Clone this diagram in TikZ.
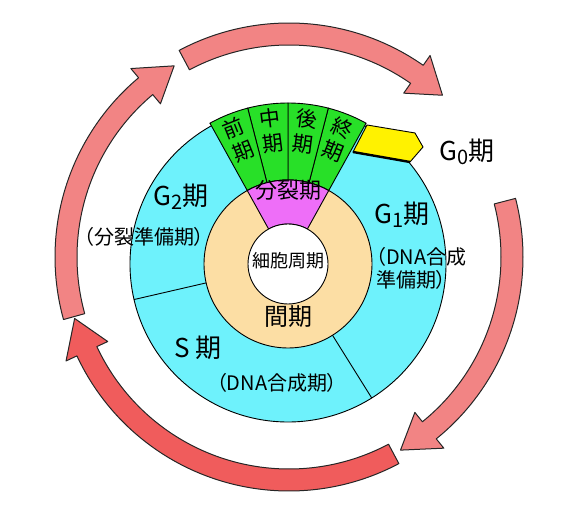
\documentclass[tikz,border=0pt]{standalone}
\usepackage{fontspec}
\setmainfont{Noto Sans CJK JP}
\newfontfamily\jpprop[RawFeature=+palt]{Noto Sans CJK JP}
\usetikzlibrary{calc}
\definecolor{cellcyan}{RGB}{110,242,252}
\definecolor{cellpeach}{RGB}{252,222,164}
\definecolor{cellpink}{RGB}{238,110,248}
\definecolor{mitgreen}{RGB}{40,224,40}
\definecolor{arrowpink}{RGB}{242,132,132}
\definecolor{arrowred}{RGB}{240,92,92}
\newcommand{\gsub}[1]{\raisebox{-4pt}{\fontsize{20}{20}\selectfont #1}}
% piece of a ring round C: from angle, to angle, inner r, outer r
\newcommand{\ringpiece}[4]{($(C)+(#1:#4)$) arc[start angle=#1, end angle=#2, radius=#4] -- ($(C)+(#2:#3)$) arc[start angle=#2, end angle=#1, radius=#3] -- cycle}
% bent arrow round A: tail angle, head base angle, tip angle
\newcommand{\cyclearrow}[3]{($(A)+(#1:234)$) arc[start angle=#1, end angle=#2, radius=234] -- ($(A)+(#2:246)$) -- ($(A)+(#3:223)$) -- ($(A)+(#2:200)$) -- ($(A)+(#2:212)$) arc[start angle=#2, end angle=#1, radius=212] -- cycle}

\begin{document}
\begin{tikzpicture}[x=1pt, y=1pt,
    bigtxt/.style={inner sep=0pt, font=\fontsize{26}{30}\selectfont},
    midtxt/.style={inner sep=0pt, font=\fontsize{22}{26}\selectfont},
    smalltxt/.style={inner sep=0pt, font=\jpprop\fontsize{20}{23}\selectfont},
    coltxt/.style={inner sep=0pt, align=center, font=\fontsize{21}{25}\selectfont},
    ringline/.style={draw=black, line width=0.9pt},
    cyclearr/.style={draw=black!85, line width=1pt, line join=round}]
    \useasboundingbox (0,0) rectangle (563,512);
    \coordinate (C) at (288,248);
    \coordinate (A) at (289,255);

    % arrows round the cycle
    \path[cyclearr, fill=arrowred] \cyclearrow{-62}{-155}{-164};
    \path[cyclearr, fill=arrowpink] \cyclearrow{195.5}{130}{121};
    \path[cyclearr, fill=arrowpink] \cyclearrow{118}{55}{46.5};
    \path[cyclearr, fill=arrowpink] \cyclearrow{14.5}{-51}{-60};

    % interphase ring
    \filldraw[ringline, fill=cellcyan] (C) circle[radius=158];
    \draw[ringline] ($(C)+(193:84)$) -- ($(C)+(193:158)$);
    \draw[ringline] ($(C)+(-58:84)$) -- ($(C)+(-58:158)$);
    \filldraw[ringline, fill=yellow] (367,387) -- (415,379) -- (423,365) -- (410,350) -- (353,360) -- cycle;
    \draw[line width=2.4pt] (353,360) -- (410,350);

    % M phase
    \foreach \a/\b in {61/75.5, 75.5/90, 90/104.5, 104.5/119}
      \filldraw[ringline, fill=mitgreen] \ringpiece{\a}{\b}{84}{161};
    \filldraw[ringline, fill=cellpeach] (C) circle[radius=84];
    \filldraw[ringline, fill=cellpink] \ringpiece{61}{119}{40}{84};
    \filldraw[ringline, fill=white] (C) circle[radius=40];

    \node[coltxt, rotate=21.75] (pro) at ($(C)+(111.75:134)$) {前\\期};
    \node[coltxt, rotate=7.25] (meta) at ($(C)+(97.25:134)$) {中\\期};
    \node[coltxt, rotate=-7.25] (ana) at ($(C)+(82.75:134)$) {後\\期};
    \node[coltxt, rotate=-21.75] (telo) at ($(C)+(68.25:134)$) {終\\期};
    \node[midtxt] (mphase) at (288,322) {分裂期};
    \node[inner sep=0pt, font=\fontsize{18}{20}\selectfont] (cycle) at (288,251) {細胞周期};
    \node[inner sep=0pt, font=\fontsize{24}{28}\selectfont] (inter) at (288,195) {間期};

    \node[bigtxt] (g2) at (181,315) {G\gsub{2}期};
    \node[smalltxt] (g2note) at (144,275) {（分裂準備期）};
    \node[bigtxt] (g1) at (402,297) {G\gsub{1}期};
    \node[smalltxt, align=left, anchor=west] (g1note) at (376,244) {（DNA合成\\準備期）};
    \node[bigtxt] (s) at (198,164) {S 期};
    \node[smalltxt] (snote) at (277,129) {（DNA合成期）};
    \node[bigtxt] (g0) at (467,360) {G\gsub{0}期};
\end{tikzpicture}
\end{document}
